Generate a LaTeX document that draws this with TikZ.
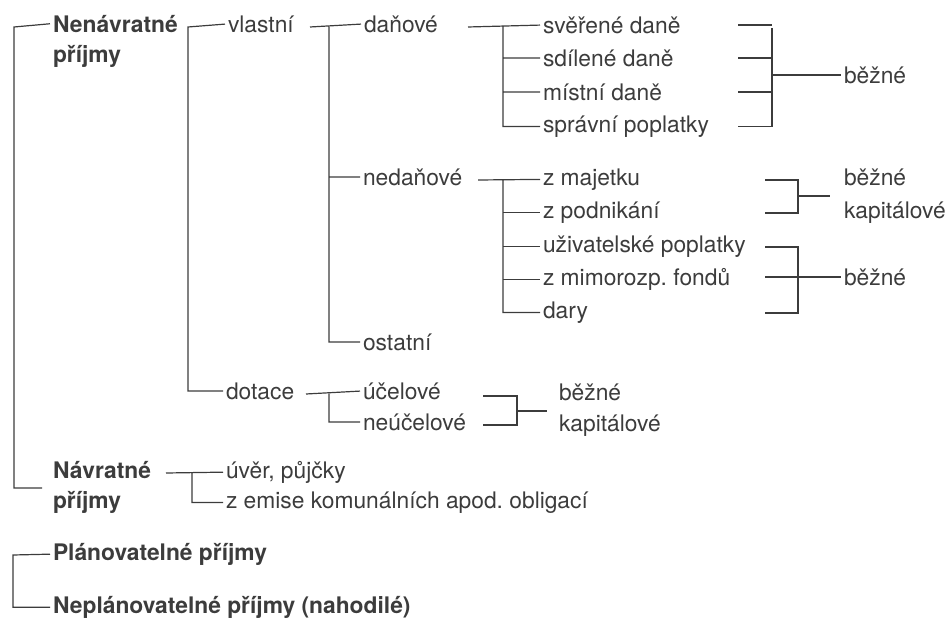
\documentclass[tikz,border=0pt]{standalone}
\usepackage{fontspec}
\setmainfont{TeX Gyre Heros}
\usetikzlibrary{positioning}
\definecolor{ink}{HTML}{3C3C3C}
\frenchspacing
\tikzset{
  item/.style = {anchor=mid west, inner sep=0pt, outer sep=1.5pt, text=ink,
                 font=\fontsize{11.4}{13}\selectfont},
  head/.style = {item, font=\fontsize{11.4}{13}\selectfont\bfseries},
  link/.style = {draw=ink, line width=0.6pt},
}

\begin{document}
\begin{tikzpicture}[x=0.5pt,y=-0.5pt]
  \useasboundingbox (0,0) rectangle (947,619);

  % left column
  \node[head] (nen)  at (50,27)  {Nenávratné};
  \node[head] (nenb) at (50,57)  {příjmy};
  \node[head] (nav)  at (50,473) {Návratné};
  \node[head] (navb) at (50,503) {příjmy};
  \node[head] (pla)  at (50,555) {Plánovatelné příjmy};
  \node[head] (nep)  at (50,608) {Neplánovatelné příjmy (nahodilé)};

  \node[item] (vla) at (225,27)  {vlastní};
  \node[item] (dot) at (223,394) {dotace};
  \node[item] (uve) at (223,473) {úvěr, půjčky};
  \node[item] (emi) at (223,503) {z emise komunálních apod. obligací};

  \node[item] (dan) at (361,27)  {daňové};
  \node[item] (ned) at (360,180) {nedaňové};
  \node[item] (ost) at (360,345) {ostatní};
  \node[item] (uce) at (360,394) {účelové};
  \node[item] (neu) at (360,425) {neúčelové};

  \node[item] (sve) at (540,28)  {svěřené daně};
  \node[item] (sdi) at (540,61)  {sdílené daně};
  \node[item] (mis) at (540,95)  {místní daně};
  \node[item] (spr) at (540,127) {správní poplatky};
  \node[item] (maj) at (540,180) {z majetku};
  \node[item] (pod) at (540,213) {z podnikání};
  \node[item] (uzi) at (540,247) {uživatelské poplatky};
  \node[item] (mim) at (540,280) {z mimorozp. fondů};
  \node[item] (dar) at (540,313) {dary};

  \node[item] (bez1) at (841,78)  {běžné};
  \node[item] (bez2) at (841,180) {běžné};
  \node[item] (kap2) at (841,213) {kapitálové};
  \node[item] (bez3) at (841,280) {běžné};
  \node[item] (bez4) at (556,395) {běžné};
  \node[item] (kap4) at (556,426) {kapitálové};

  % forks
  \coordinate (r0) at (14,27);
  \coordinate (r1) at (14,488);
  \coordinate (r2) at (42,488);
  \draw[link] (nen.west) -- (r0) -- (r1) -- (r2);

  \coordinate (v0) at (188,27);
  \draw[link] (vla.west) -- (v0) |- (dot.west);

  \coordinate (d0) at (310,27);
  \coordinate (d1) at (329,27);
  \draw[link] (d0) -- (dan.west) (d1) |- (ost.west) (d1 |- ned) -- (ned.west);

  \coordinate (t0) at (306,394);
  \coordinate (t1) at (329,394);
  \draw[link] (t0) -- (uce.west) (t1) |- (neu.west);

  \coordinate (e0) at (468,27);
  \coordinate (e1) at (503,27);
  \draw[link] (e0) -- (sve.west) (e1) |- (spr.west)
              (e1 |- sdi) -- (sdi.west) (e1 |- mis) -- (mis.west);

  \coordinate (f0) at (478,180);
  \coordinate (f1) at (503,180);
  \draw[link] (f0) -- (maj.west) (f1) |- (dar.west);
  \foreach \n in {pod,uzi,mim}
    \draw[link] (f1 |- \n) -- (\n.west);

  \coordinate (n0) at (166,473);
  \coordinate (n1) at (192,473);
  \draw[link] (n0) -- (uve.west) (n1) |- (emi.west);

  \coordinate (p0) at (13,555);
  \draw[link] (pla.west) -- (p0) |- (nep.west);

  % joins on the right
  \coordinate (m0) at (772,28);
  \coordinate (m1) at (772,127);
  \coordinate (m2) at (738,0);
  \draw[link] (m0) -- (m1) (m0 |- bez1) -- (bez1.west);
  \foreach \n in {sve,sdi,mis,spr}
    \draw[link] (m2 |- \n) -- (m0 |- \n);

  \coordinate (g0) at (798,180);
  \coordinate (g1) at (798,213);
  \coordinate (g2) at (765,0);
  \coordinate (g3) at (830,196);
  \draw[link] (g2 |- g0) -- (g0) -- (g1) -- (g2 |- g1) (g0 |- g3) -- (g3);

  \coordinate (h0) at (798,247);
  \coordinate (h1) at (798,313);
  \draw[link] (g2 |- h0) -- (h0) -- (h1) -- (g2 |- h1) (g2 |- bez3) -- (bez3.west);

  \coordinate (k0) at (517,396);
  \coordinate (k1) at (517,425);
  \coordinate (k2) at (483,0);
  \coordinate (k3) at (547,411);
  \draw[link] (k2 |- k0) -- (k0) -- (k1) -- (k2 |- k1) (k0 |- k3) -- (k3);
\end{tikzpicture}
\end{document}
